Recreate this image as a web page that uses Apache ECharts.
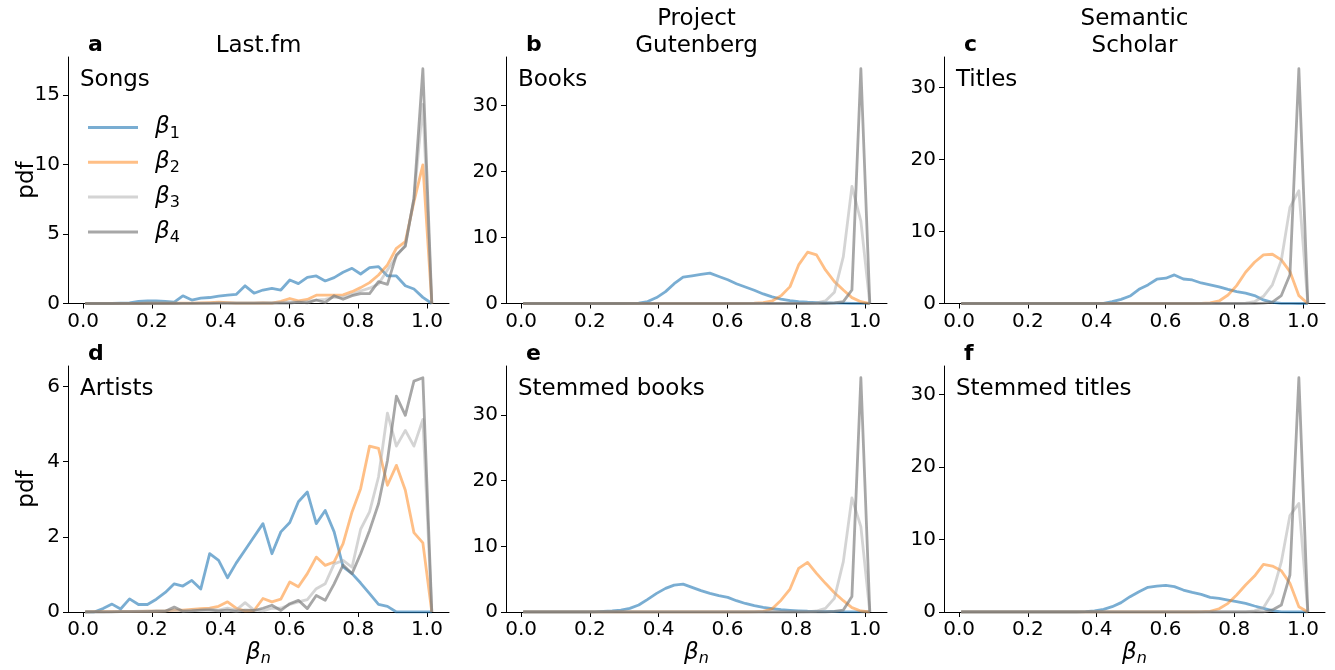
<!DOCTYPE html>
<html><head><meta charset="utf-8">
<script src="https://cdn.jsdelivr.net/npm/echarts@6/dist/echarts.min.js"></script>
<style>html,body{margin:0;padding:0;background:#fff}#c{width:1335px;height:670px}</style>
</head><body><div id="c"></div>
<script>
// x positions (bin centres of beta_n)
const betaN = [0.006,0.032,0.058,0.084,0.109,0.135,0.161,0.187,0.213,0.239,
  0.265,0.290,0.316,0.342,0.368,0.394,0.420,0.445,0.471,0.497,
  0.523,0.549,0.575,0.601,0.626,0.652,0.678,0.704,0.730,0.756,
  0.782,0.807,0.833,0.859,0.885,0.911,0.937,0.962,0.988,1.014];
const xTicks = [0,0.2,0.4,0.6,0.8,1.0];
const yTicksSongs = [0,5,10,15];
const yTicksArtists = [0,2,4,6];
const yTicksText = [0,10,20,30];
const seriesNames = ['β1','β2','β3','β4'];
const columnTitles = [['Last.fm'],['Project','Gutenberg'],['Semantic','Scholar']];
const panelLetters = ['a','b','c','d','e','f'];
const panelLabels = ['Songs','Books','Titles','Artists','Stemmed books','Stemmed titles'];

// a: Songs
const songsB1 = [0,0,0,0,0.02,0.05,0.15,0.18,0.18,0.15, 0.10,0.55,0.25,0.38,0.43,0.53,0.60,0.65,1.27,0.74, 0.97,1.09,0.97,1.69,1.43,1.88,1.98,1.62,1.86,2.24, 2.53,2.12,2.58,2.65,1.98,1.98,1.28,1.04,0.44,0];
const songsB2 = [0,0,0,0,0,0,0,0.02,0.02,0.02, 0.02,0.02,0.03,0.05,0.07,0.10,0.07,0.02,0.03,0.02, 0.05,0.02,0.15,0.36,0.19,0.29,0.60,0.60,0.60,0.62, 0.85,1.14,1.50,2.05,2.77,3.97,4.45,7.30,9.96,0];
const songsB3 = [0,0,0,0,0,0,0,0,0.01,0.01, 0.01,0.01,0.01,0.02,0.02,0.02,0.02,0.03,0.03,0.03, 0.04,0.05,0.08,0.12,0.10,0.15,0.25,0.30,0.45,0.45, 0.65,0.90,1.10,1.40,2.40,3.40,4.20,7.50,14.30,0];
const songsB4 = [0,0,0,0,0,0,0,0,0,0, 0,0.01,0.01,0.01,0.01,0.02,0.02,0.02,0.03,0.02, 0.03,0.03,0.03,0.02,0.10,0.05,0.25,0.07,0.56,0.30, 0.56,0.71,0.71,1.57,1.38,3.49,4.11,7.57,16.87,0];
// b: Books
const booksB1 = [0,0,0,0,0,0,0,0,0,0, 0,0,0.01,0.05,0.30,0.90,1.80,3.00,4.00,4.20, 4.40,4.60,4.10,3.60,3.00,2.50,2.00,1.45,1.00,0.65, 0.45,0.30,0.20,0.14,0.10,0.07,0.05,0.03,0.02,0];
const booksB2 = [0,0,0,0,0,0,0,0,0,0, 0,0,0,0,0,0,0,0,0,0, 0,0,0,0,0,0.02,0.05,0.12,0.38,1.19, 2.56,5.85,7.78,7.37,5.09,3.32,2.05,0.89,0.28,0];
const booksB3 = [0,0,0,0,0,0,0,0,0,0, 0,0,0,0,0,0,0,0,0,0, 0,0,0,0,0,0,0,0,0,0, 0,0,0.03,0.10,0.38,1.70,7.10,17.75,12.50,0];
const booksB4 = [0,0,0,0,0,0,0,0,0,0, 0,0,0,0,0,0,0,0,0,0, 0,0,0,0,0,0,0,0,0,0, 0,0,0,0,0,0.10,0.28,2.05,35.60,0];
// c: Titles
const titlesB1 = [0,0,0,0,0,0,0,0,0,0, 0,0,0,0,0,0,0.02,0.25,0.58,1.04, 1.97,2.58,3.37,3.51,3.97,3.40,3.27,2.85,2.60,2.30, 1.95,1.65,1.45,1.10,0.50,0.15,0.03,0.01,0,0];
const titlesB2 = [0,0,0,0,0,0,0,0,0,0, 0,0,0,0,0,0,0,0,0,0, 0,0,0,0,0,0,0,0.03,0.10,0.35, 1.18,2.48,4.34,5.73,6.75,6.84,6.05,4.43,1.09,0];
const titlesB3 = [0,0,0,0,0,0,0,0,0,0, 0,0,0,0,0,0,0,0,0,0, 0,0,0,0,0,0,0,0,0,0, 0,0,0.05,0.25,1.00,2.60,6.00,13.35,15.67,0];
const titlesB4 = [0,0,0,0,0,0,0,0,0,0, 0,0,0,0,0,0,0,0,0,0, 0,0,0,0,0,0,0,0,0,0, 0,0,0,0,0.05,0.20,1.10,4.00,32.60,0];
// d: Artists
const artistsB1 = [0,0,0.09,0.21,0.08,0.35,0.20,0.20,0.34,0.52, 0.75,0.69,0.84,0.61,1.55,1.37,0.91,1.30,1.65,2.00, 2.35,1.55,2.13,2.38,2.93,3.19,2.35,2.70,2.13,1.20, 1.02,0.77,0.49,0.20,0.15,0,0,0,0,0];
const artistsB2 = [0,0.01,0.01,0.01,0.01,0.01,0.01,0.02,0.02,0.03, 0.05,0.05,0.07,0.09,0.10,0.15,0.27,0.10,0.03,0.04, 0.36,0.27,0.34,0.80,0.67,1.02,1.46,1.24,1.33,1.82, 2.66,3.28,4.41,4.35,3.37,3.90,3.24,2.11,1.84,0];
const artistsB3 = [0,0,0,0.01,0.01,0.01,0.02,0.02,0.02,0.03, 0.05,0.03,0.05,0.05,0.08,0.05,0.10,0.05,0.25,0.05, 0.03,0.10,0.10,0.20,0.27,0.33,0.62,0.75,1.28,1.37, 1.19,2.20,2.66,3.59,5.29,4.41,4.83,4.41,5.12,0];
const artistsB4 = [0,0,0,0,0.01,0.01,0.01,0.01,0.02,0.02, 0.13,0.02,0.03,0.05,0.05,0.03,0.05,0.02,0.05,0.04, 0.10,0.18,0.04,0.22,0.31,0.09,0.44,0.31,0.75,1.25, 1.02,1.55,2.17,2.88,4.03,5.74,5.23,6.14,6.23,0];
// e: Stemmed books
const stemBooksB1 = [0,0,0,0,0,0,0,0,0.03,0.08, 0.15,0.30,0.56,1.07,1.93,2.84,3.60,4.10,4.25,3.75, 3.25,2.84,2.48,2.23,1.72,1.30,0.96,0.71,0.50,0.35, 0.25,0.18,0.12,0.10,0.07,0.05,0.03,0.02,0.01,0];
const stemBooksB2 = [0,0,0,0,0,0,0,0,0,0, 0,0,0,0,0,0,0,0,0,0, 0,0,0,0,0,0,0.02,0.10,0.50,1.80, 3.50,6.65,7.56,5.89,4.37,2.94,1.72,0.66,0.15,0];
const stemBooksB3 = [0,0,0,0,0,0,0,0,0,0, 0,0,0,0,0,0,0,0,0,0, 0,0,0,0,0,0,0,0,0,0, 0,0,0.03,0.15,0.56,2.08,7.67,17.40,13.00,0];
const stemBooksB4 = [0,0,0,0,0,0,0,0,0,0, 0,0,0,0,0,0,0,0,0,0, 0,0,0,0,0,0,0,0,0,0, 0,0,0,0,0,0.08,0.30,2.38,35.70,0];
// f: Stemmed titles
const stemTitlesB1 = [0,0,0,0,0,0,0,0,0,0, 0,0,0,0,0.05,0.14,0.37,0.73,1.29,2.11, 2.80,3.40,3.58,3.67,3.49,3.03,2.71,2.43,2.02,1.88, 1.65,1.42,1.19,0.83,0.50,0.18,0.02,0,0,0];
const stemTitlesB2 = [0,0,0,0,0,0,0,0,0,0, 0,0,0,0,0,0,0,0,0,0, 0,0,0,0,0,0,0,0.02,0.10,0.45, 1.19,2.34,3.72,4.96,6.56,6.34,5.69,3.95,0.73,0];
const stemTitlesB3 = [0,0,0,0,0,0,0,0,0,0, 0,0,0,0,0,0,0,0,0,0, 0,0,0,0,0,0,0,0,0,0, 0,0,0,0.15,0.60,2.57,6.90,13.30,14.97,0];
const stemTitlesB4 = [0,0,0,0,0,0,0,0,0,0, 0,0,0,0,0,0,0,0,0,0, 0,0,0,0,0,0,0,0,0,0, 0,0,0,0,0,0.28,0.96,5.10,32.30,0];

const panelData = [
  [songsB1, songsB2, songsB3, songsB4],
  [booksB1, booksB2, booksB3, booksB4],
  [titlesB1, titlesB2, titlesB3, titlesB4],
  [artistsB1, artistsB2, artistsB3, artistsB4],
  [stemBooksB1, stemBooksB2, stemBooksB3, stemBooksB4],
  [stemTitlesB1, stemTitlesB2, stemTitlesB3, stemTitlesB4]
];
const panelYTicks = [yTicksSongs, yTicksText, yTicksText, yTicksArtists, yTicksText, yTicksText];

// ---- layout / style ----
const FONT = 'DejaVu Sans';
const colors = ['rgba(31,119,180,0.6)','rgba(255,127,14,0.5)','rgba(170,170,170,0.5)','rgba(120,120,120,0.65)'];
const colLeft = [68, 506, 944];
const rowTop = [57, 366];
const rowBottom = [303.5, 612];
const W = 381;

const grids = [], xAxes = [], yAxes = [], series = [], graphics = [];
for (let p = 0; p < 6; p++) {
  const r = Math.floor(p / 3), c = p % 3;
  grids.push({left: colLeft[c], top: rowTop[r], width: W, height: rowBottom[r] - rowTop[r]});
  let ymax = 0;
  panelData[p].forEach(a => a.forEach(v => { if (v > ymax) ymax = v; }));
  xAxes.push({
    gridIndex: p, type: 'value', min: -0.044, max: 1.064,
    axisLine: {show: true, onZero: false, lineStyle: {color: '#000', width: 1}},
    axisTick: {show: true, length: 5, customValues: xTicks, lineStyle: {color: '#000', width: 1}},
    axisLabel: {show: true, customValues: xTicks, formatter: v => v.toFixed(1), fontSize: 20, color: '#000', fontFamily: FONT, margin: 8},
    splitLine: {show: false}
  });
  yAxes.push({
    gridIndex: p, type: 'value', min: 0, max: ymax * 1.05,
    axisLine: {show: true, onZero: false, lineStyle: {color: '#000', width: 1}},
    axisTick: {show: true, length: 5, customValues: panelYTicks[p], lineStyle: {color: '#000', width: 1}},
    axisLabel: {show: true, customValues: panelYTicks[p], formatter: v => String(v), fontSize: 20, color: '#000', fontFamily: FONT, margin: 8},
    splitLine: {show: false}
  });
  for (let s = 0; s < 4; s++) {
    series.push({
      type: 'line', name: seriesNames[s], xAxisIndex: p, yAxisIndex: p,
      data: betaN.map((x, k) => [x, panelData[p][s][k]]),
      showSymbol: false, symbol: 'none', color: colors[s],
      lineStyle: {width: 2.8, color: colors[s], join: 'round', cap: 'butt'},
      silent: true, animation: false
    });
  }
  // panel letter
  graphics.push({type: 'text', x: colLeft[c] + 20, y: rowTop[r] - 12,
    style: {text: panelLetters[p], font: 'bold 22px ' + FONT, fill: '#000', align: 'left', textAlign: 'left', verticalAlign: 'middle', textVerticalAlign: 'middle'}});
  // inner label
  graphics.push({type: 'text', x: colLeft[c] + 12, y: rowTop[r] + 23,
    style: {text: panelLabels[p], font: '23px ' + FONT, fill: '#000', align: 'left', textAlign: 'left', verticalAlign: 'middle', textVerticalAlign: 'middle'}});
  if (r === 1) {
    graphics.push({type: 'text', x: colLeft[c] + W / 2, y: 653,
      style: {text: '{b|β}{s|n}', fill: '#000', align: 'center', textAlign: 'center', verticalAlign: 'middle', textVerticalAlign: 'middle',
        rich: {b: {fontSize: 23, fontStyle: 'italic', fontFamily: FONT, fill: '#000', lineHeight: 28},
               s: {fontSize: 16, fontStyle: 'italic', fontFamily: FONT, fill: '#000', lineHeight: 14, verticalAlign: 'bottom'}}}});
  }
}
// column titles
for (let c = 0; c < 3; c++) {
  const lines = columnTitles[c];
  lines.forEach((t, i) => {
    const y = 46 - (lines.length - 1 - i) * 27;
    graphics.push({type: 'text', x: colLeft[c] + W / 2, y: y,
      style: {text: t, font: '23px ' + FONT, fill: '#000', align: 'center', textAlign: 'center', verticalAlign: 'middle', textVerticalAlign: 'middle'}});
  });
}
// y labels
[180, 489].forEach(y => {
  graphics.push({type: 'text', x: 27, y: y, rotation: Math.PI / 2,
    style: {text: 'pdf', font: '23px ' + FONT, fill: '#000', align: 'center', textAlign: 'center', verticalAlign: 'middle', textVerticalAlign: 'middle'}});
});

const chart = echarts.init(document.getElementById('c'), null, {renderer: 'canvas'});
chart.setOption({
  animation: false,
  backgroundColor: '#fff',
  textStyle: {fontFamily: FONT},
  grid: grids, xAxis: xAxes, yAxis: yAxes, series: series,
  legend: {
    show: true, data: seriesNames, orient: 'vertical', left: 88, top: 116, padding: 0,
    itemWidth: 50, itemHeight: 3, itemGap: 9.3, icon: 'rect', selectedMode: false,
    itemStyle: {borderWidth: 0},
    formatter: n => '{b|β}{s|' + n.slice(1) + '}',
    textStyle: {rich: {
      b: {fontSize: 23, fontStyle: 'italic', fontFamily: FONT, color: '#000', lineHeight: 28, padding: [0, 0, 0, 12]},
      s: {fontSize: 16, fontFamily: FONT, color: '#000', lineHeight: 14, verticalAlign: 'bottom'}
    }}
  },
  graphic: graphics
});
</script>
</body></html>
